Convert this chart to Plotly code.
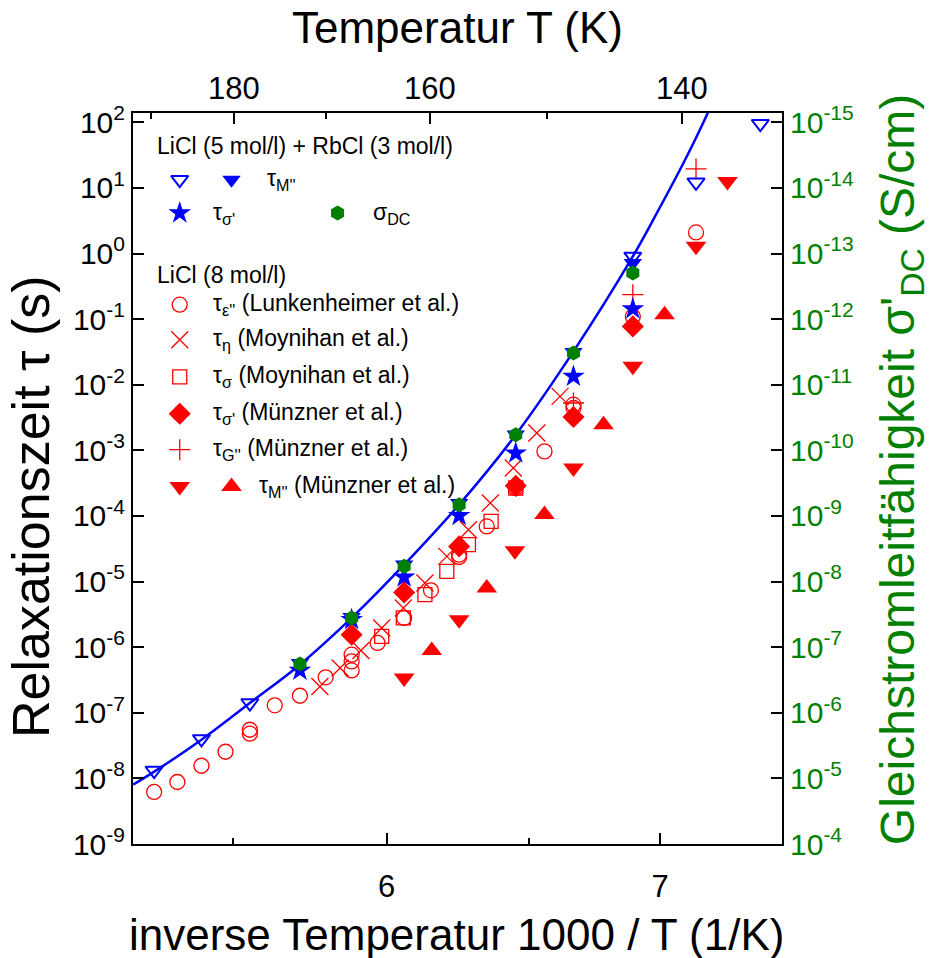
import plotly.graph_objects as go

FONT = "Liberation Sans, Arial, sans-serif"
BLUE = "#0000FF"
RED = "#FF0000"
GREEN = "#008000"

# ---- LiCl (5 mol/l) + RbCl (3 mol/l): inverse temperature 1000/T (1/K), tau (s) ----
mrb_open_x = [5.150, 5.323, 5.500, 6.900, 7.131, 7.366]
mrb_open_tau = [1.32e-8, 3.99e-8, 1.41e-7, 0.906, 12.2, 95.5]

mrb_fill_x = [5.683, 5.872, 6.064, 6.265, 6.472, 6.683, 6.900]
mrb_fill_tau = [5.75e-7, 2.88e-6, 1.82e-5, 1.58e-4, 1.74e-3, 3.16e-2, 0.72]

sig_rb_x = [5.683, 5.872, 6.064, 6.265, 6.472, 6.683, 6.900]
sig_rb_tau = [4.43e-7, 2.63e-6, 1.17e-5, 1.01e-4, 9.1e-4, 1.34e-2, 0.143]

# DC conductivity (S/cm), right-hand axis
dc_x = [5.683, 5.872, 6.064, 6.265, 6.472, 6.683, 6.900]
dc_sigma = [1.80e-7, 3.59e-8, 5.86e-9, 6.73e-10, 5.77e-11, 3.27e-12, 1.98e-13]

# fitted curve through the LiCl/RbCl relaxation times
fit_x = [5.073, 5.152, 5.323, 5.500, 5.683, 5.872, 6.064, 6.265, 6.472,
         6.683, 6.900, 6.988, 7.085, 7.171, 7.200]
fit_tau = [8.02e-9, 1.28e-8, 3.89e-8, 1.41e-7, 5.41e-7, 2.79e-6, 1.81e-5,
           1.49e-4, 1.73e-3, 3.23e-2, 0.906, 4.16, 24.0, 131.0, 250.0]

# ---- LiCl (8 mol/l) ----
eps_x = [5.150, 5.235, 5.323, 5.411, 5.500, 5.500, 5.591, 5.683, 5.777, 5.872,
         5.872, 5.872, 5.967, 6.064, 6.162, 6.265, 6.265, 6.366, 6.472, 6.577,
         6.683, 6.683, 6.900, 7.131]
eps_tau = [6.21e-9, 8.81e-9, 1.56e-8, 2.55e-8, 5.52e-8, 4.80e-8, 1.30e-7, 1.82e-7,
           3.47e-7, 7.69e-7, 6.08e-7, 4.43e-7, 1.16e-6, 2.79e-6, 7.35e-6, 2.57e-5,
           2.37e-5, 6.93e-5, 2.67e-4, 9.66e-4, 4.98e-3, 4.43e-3, 0.110, 2.10]

eta_x = [5.756, 5.830, 5.906, 5.982, 6.061, 6.140, 6.220, 6.299, 6.379, 6.463,
         6.549, 6.634]
eta_tau = [2.52e-7, 4.82e-7, 8.93e-7, 1.96e-6, 3.96e-6, 9.53e-6, 2.42e-5, 6.18e-5,
           1.58e-4, 5.40e-4, 1.84e-3, 6.65e-3]

sig_moy_x = [5.982, 6.061, 6.140, 6.220, 6.299, 6.382, 6.472]
sig_moy_tau = [1.46e-6, 2.79e-6, 6.31e-6, 1.43e-5, 3.66e-5, 8.28e-5, 2.67e-4]

sigp_x = [5.872, 6.064, 6.265, 6.472, 6.683, 6.900]
sigp_tau = [1.55e-6, 6.84e-6, 3.44e-5, 2.88e-4, 3.23e-3, 7.76e-2]

g_x = [6.683, 6.900, 7.131]
g_tau = [5.28e-3, 0.236, 19.5]

mdown_x = [6.064, 6.265, 6.469, 6.683, 6.900, 7.131, 7.246]
mdown_tau = [3.39e-7, 2.62e-6, 2.96e-5, 5.40e-4, 1.91e-2, 1.29, 12.6]

mup_x = [6.165, 6.366, 6.577, 6.793, 7.016]
mup_tau = [8.93e-7, 7.98e-6, 1.05e-4, 2.47e-3, 0.117]

# ---- axis ticks ----
tau_exponents = list(range(-9, 3))
sigma_exponents = list(range(-15, -3))
temp_major = [180, 160, 140]
temp_minor = [190, 170, 150]
inv_major = [6, 7]
inv_minor = [5.437, 6.519]

fig = go.Figure()


def pts(x, y, symbol, color, size, filled, yaxis="y", lw=1.3):
    if filled:
        marker = dict(symbol=symbol, size=size, color=color, line=dict(width=0))
    else:
        marker = dict(symbol=symbol, size=size, color=color, line=dict(width=lw, color=color))
    fig.add_trace(go.Scatter(x=x, y=y, mode="markers", marker=marker,
                             yaxis=yaxis, showlegend=False, hoverinfo="skip"))


# LiCl 8 mol/l (red)
pts(eps_x, eps_tau, "circle-open", RED, 15, False)
pts(eta_x, eta_tau, "x-thin-open", RED, 17, False)
pts(sig_moy_x, sig_moy_tau, "square-open", RED, 14, False)
pts(sigp_x, sigp_tau, "diamond", RED, 17, True)
pts(g_x, g_tau, "cross-thin-open", RED, 15, False)
pts(mdown_x, mdown_tau, "triangle-down", RED, 18, True)
pts(mup_x, mup_tau, "triangle-up", RED, 18, True)

# fit curve
fig.add_trace(go.Scatter(x=fit_x, y=fit_tau, mode="lines",
                         line=dict(color=BLUE, width=2.5, shape="spline"),
                         showlegend=False, hoverinfo="skip"))

# LiCl + RbCl (blue)
pts(mrb_open_x, mrb_open_tau, "triangle-down-open", BLUE, 15, False, lw=2)
pts(mrb_fill_x, mrb_fill_tau, "triangle-down", BLUE, 16, True)
pts(sig_rb_x, sig_rb_tau, "star", BLUE, 17, True)

# DC conductivity (green, right axis)
pts(dc_x, dc_sigma, "hexagon", GREEN, 15, True, yaxis="y2")

# top temperature axis carrier
fig.add_trace(go.Scatter(x=[1000 / t for t in temp_major], y=[None] * 3,
                         xaxis="x2", mode="markers", showlegend=False, hoverinfo="skip"))

# ---- hand-built legend ----
legend_keys = [
    (0.072, 0.9088, "triangle-down-open", BLUE, 15, False),
    (0.1518, 0.9088, "triangle-down", BLUE, 16, True),
    (0.072, 0.8632, "star", BLUE, 17, True),
    (0.3152, 0.8632, "hexagon", GREEN, 15, True),
    (0.072, 0.7378, "circle-open", RED, 15, False),
    (0.072, 0.6899, "x-thin-open", RED, 17, False),
    (0.072, 0.6389, "square-open", RED, 14, False),
    (0.072, 0.5886, "diamond", RED, 17, True),
    (0.072, 0.5394, "cross-thin-open", RED, 15, False),
    (0.072, 0.4892, "triangle-down", RED, 18, True),
    (0.1518, 0.4892, "triangle-up", RED, 18, True),
]
for kx, ky, sym, col, sz, filled in legend_keys:
    m = dict(symbol=sym, size=sz, color=col,
             line=dict(width=0 if filled else (2 if sym == "triangle-down-open" else 1.3), color=col))
    fig.add_trace(go.Scatter(x=[kx], y=[ky], xaxis="x3", yaxis="y3", mode="markers",
                             marker=m, showlegend=False, hoverinfo="skip"))

legend_texts = [
    (0.0334, 0.9543, "LiCl (5 mol/l) + RbCl (3 mol/l)"),
    (0.2031, 0.9088, "τ<sub>M''</sub>"),
    (0.1209, 0.8632, "τ<sub>σ'</sub>"),
    (0.3661, 0.8632, "σ<sub>DC</sub>"),
    (0.0334, 0.7788, "LiCl (8 mol/l)"),
    (0.1209, 0.7378, "τ<sub>ε''</sub> (Lunkenheimer et al.)"),
    (0.1209, 0.6899, "τ<sub>η</sub> (Moynihan et al.)"),
    (0.1209, 0.6389, "τ<sub>σ</sub> (Moynihan et al.)"),
    (0.1209, 0.5886, "τ<sub>σ'</sub> (Münzner et al.)"),
    (0.1209, 0.5394, "τ<sub>G''</sub> (Münzner et al.)"),
    (0.1903, 0.4892, "τ<sub>M''</sub> (Münzner et al.)"),
]
annotations = [dict(x=tx, y=ty, xref="paper", yref="paper", text=t, showarrow=False,
                    xanchor="left", yanchor="middle",
                    font=dict(family=FONT, size=23, color="black"))
               for tx, ty, t in legend_texts]

# axis titles
annotations += [
    dict(x=0.4985, y=-0.124, xref="paper", yref="paper", showarrow=False,
         text="inverse Temperatur 1000 / T (1/K)", xanchor="center", yanchor="middle",
         font=dict(family=FONT, size=44, color="black")),
    dict(x=0.5, y=1.1167, xref="paper", yref="paper", showarrow=False,
         text="Temperatur T (K)", xanchor="center", yanchor="middle",
         font=dict(family=FONT, size=44, color="black")),
    dict(x=-0.156, y=0.462, xref="paper", yref="paper", showarrow=False, textangle=-90,
         text="Relaxationszeit τ (s)", xanchor="center", yanchor="middle",
         font=dict(family=FONT, size=52, color="black")),
    dict(x=1.1825, y=0.512, xref="paper", yref="paper", showarrow=False, textangle=-90,
         text="Gleichstromleitfähigkeit σ'<sub>DC</sub> (S/cm)",
         xanchor="center", yanchor="middle",
         font=dict(family=FONT, size=48, color=GREEN)),
]

axis_common = dict(showline=True, linecolor="black", linewidth=2, ticks="inside",
                   tickcolor="black", tickwidth=2, ticklen=11, showgrid=False,
                   zeroline=False, mirror=False)

fig.update_layout(
    width=933, height=958,
    margin=dict(l=133, r=151, t=113, b=114),
    paper_bgcolor="white", plot_bgcolor="white",
    font=dict(family=FONT, color="black"),
    showlegend=False,
    annotations=annotations,
    xaxis=dict(**axis_common, range=[5.0728, 7.4453],
               tickmode="array", tickvals=inv_major, ticktext=[str(v) for v in inv_major],
               tickfont=dict(size=31), ticklabelstandoff=14,
               minor=dict(tickmode="array", tickvals=inv_minor, ticks="inside",
                          ticklen=6, tickwidth=2, tickcolor="black")),
    xaxis2=dict(**axis_common, overlaying="x", side="top", anchor="y",
                range=[5.198, 7.498],
                tickmode="array", tickvals=[1000 / t for t in temp_major],
                ticktext=[str(t) for t in temp_major], tickfont=dict(size=31),
                minor=dict(tickmode="array", tickvals=[1000 / t for t in temp_minor],
                           ticks="inside", ticklen=6, tickwidth=2, tickcolor="black")),
    yaxis=dict(**axis_common, type="log", range=[-9, 2.143],
               tickmode="array", tickvals=[10.0 ** e for e in tau_exponents],
               ticktext=["10<sup>%d</sup>" % e for e in tau_exponents],
               tickfont=dict(size=30)),
    yaxis2=dict(**axis_common, type="log", overlaying="y", side="right", anchor="x",
                range=[-4, -15.143],
                tickmode="array", tickvals=[10.0 ** e for e in sigma_exponents],
                ticktext=["10<sup>%d</sup>" % e for e in sigma_exponents],
                tickfont=dict(size=30, color=GREEN)),
    xaxis3=dict(range=[0, 1], visible=False, overlaying="x", anchor="y3"),
    yaxis3=dict(range=[0, 1], visible=False, overlaying="y", anchor="x3"),
)

fig.write_html("out.html")
